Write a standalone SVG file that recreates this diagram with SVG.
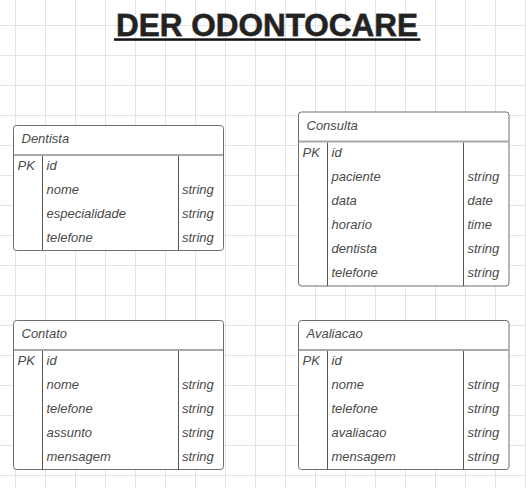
<svg xmlns="http://www.w3.org/2000/svg" width="526" height="488" viewBox="0 0 526 488">
<defs>
<pattern id="grid" x="15" y="25" width="30" height="30" patternUnits="userSpaceOnUse">
<path d="M0 0.5H30M0.5 0V30" fill="none" stroke="#e4e4e4" stroke-width="1"/>
</pattern>
</defs>
<style>
.box{fill:#fff;stroke:#6e6e6e;stroke-width:1}
.hsep{stroke:#a8a8a8;stroke-width:2}
.csep{stroke:#555;stroke-width:1}
.t{font-family:"Liberation Sans",Arial,sans-serif;font-size:13px;font-style:italic;fill:#4a4a4a}
.title{font-family:"Liberation Sans",Arial,sans-serif;font-size:31px;font-weight:bold;fill:#222;stroke:#666;stroke-width:0.8;paint-order:stroke}
</style>
<rect width="526" height="488" fill="#fff"/>
<rect width="526" height="488" fill="url(#grid)"/>
<g id="title">
<text class="title" x="267" y="36" text-anchor="middle" textLength="302" lengthAdjust="spacingAndGlyphs">DER ODONTOCARE</text>
<rect x="114" y="38.3" width="306.5" height="2.5" fill="#111"/>
</g>
<g id="connectors"></g>
<g id="dentista">
<rect class="box" x="13.5" y="125.5" width="210" height="125" rx="3"/>
<line class="hsep" x1="14" y1="155" x2="223" y2="155"/>
<line class="csep" x1="42.5" y1="156" x2="42.5" y2="250"/>
<line class="csep" x1="178.5" y1="156" x2="178.5" y2="250"/>
<text class="t" x="21.5" y="142.5">Dentista</text>
<text class="t" x="17.5" y="170">PK</text>
<text class="t" x="46.5" y="170">id</text>
<text class="t" x="46.5" y="194">nome</text>
<text class="t" x="182" y="194">string</text>
<text class="t" x="46.5" y="218">especialidade</text>
<text class="t" x="182" y="218">string</text>
<text class="t" x="46.5" y="242">telefone</text>
<text class="t" x="182" y="242">string</text>
</g>
<g id="consulta">
<rect class="box" x="298.5" y="112" width="210.5" height="174" rx="3"/>
<line class="hsep" x1="299" y1="141.5" x2="508.5" y2="141.5"/>
<line class="csep" x1="327.5" y1="142.5" x2="327.5" y2="286"/>
<line class="csep" x1="463.5" y1="142.5" x2="463.5" y2="286"/>
<text class="t" x="306.5" y="130">Consulta</text>
<text class="t" x="302.5" y="157">PK</text>
<text class="t" x="331.5" y="157">id</text>
<text class="t" x="331.5" y="181">paciente</text>
<text class="t" x="467.5" y="181">string</text>
<text class="t" x="331.5" y="205">data</text>
<text class="t" x="467.5" y="205">date</text>
<text class="t" x="331.5" y="229">horario</text>
<text class="t" x="467.5" y="229">time</text>
<text class="t" x="331.5" y="253">dentista</text>
<text class="t" x="467.5" y="253">string</text>
<text class="t" x="331.5" y="277">telefone</text>
<text class="t" x="467.5" y="277">string</text>
</g>
<g id="contato">
<rect class="box" x="13.5" y="320.5" width="210" height="149" rx="3"/>
<line class="hsep" x1="14" y1="350" x2="223" y2="350"/>
<line class="csep" x1="42.5" y1="351" x2="42.5" y2="469.5"/>
<line class="csep" x1="178.5" y1="351" x2="178.5" y2="469.5"/>
<text class="t" x="21.5" y="337.5">Contato</text>
<text class="t" x="17.5" y="365">PK</text>
<text class="t" x="46.5" y="365">id</text>
<text class="t" x="46.5" y="389">nome</text>
<text class="t" x="182" y="389">string</text>
<text class="t" x="46.5" y="413">telefone</text>
<text class="t" x="182" y="413">string</text>
<text class="t" x="46.5" y="437">assunto</text>
<text class="t" x="182" y="437">string</text>
<text class="t" x="46.5" y="461">mensagem</text>
<text class="t" x="182" y="461">string</text>
</g>
<g id="avaliacao">
<rect class="box" x="298.5" y="320.5" width="210.5" height="149" rx="3"/>
<line class="hsep" x1="299" y1="350" x2="508.5" y2="350"/>
<line class="csep" x1="327.5" y1="351" x2="327.5" y2="469.5"/>
<line class="csep" x1="463.5" y1="351" x2="463.5" y2="469.5"/>
<text class="t" x="306.5" y="337.5">Avaliacao</text>
<text class="t" x="302.5" y="365">PK</text>
<text class="t" x="331.5" y="365">id</text>
<text class="t" x="331.5" y="389">nome</text>
<text class="t" x="467.5" y="389">string</text>
<text class="t" x="331.5" y="413">telefone</text>
<text class="t" x="467.5" y="413">string</text>
<text class="t" x="331.5" y="437">avaliacao</text>
<text class="t" x="467.5" y="437">string</text>
<text class="t" x="331.5" y="461">mensagem</text>
<text class="t" x="467.5" y="461">string</text>
</g>
</svg>
